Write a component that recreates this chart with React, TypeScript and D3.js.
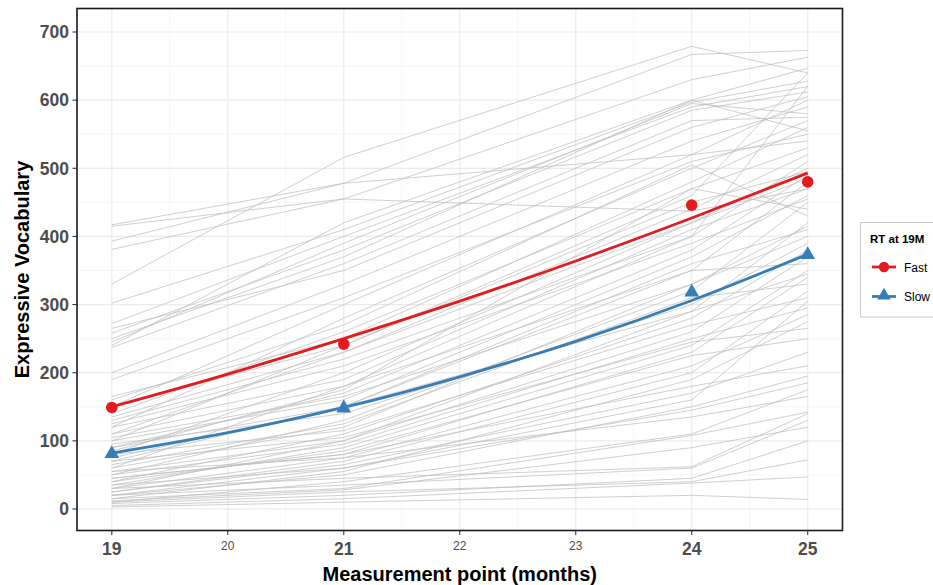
import React from "react";
import * as d3 from "d3";

// ---- data ----
const months = [19, 21, 24, 25];
const xTicks = [19, 20, 21, 22, 23, 24, 25];
const measuredTicks = [19, 21, 24, 25];
const yTicks = [0, 100, 200, 300, 400, 500, 600, 700];
const yMinorTicks = [50, 150, 250, 350, 450, 550, 650];
const xMinorTicks = [19.5, 20.5, 21.5, 22.5, 23.5, 24.5];

// individual children: vocabulary at 19, 21, 24, 25 months
const trajectories: number[][] = [
  [330, 516, 679, 640],
  [393, 478, 667, 673],
  [381, 455, 630, 663],
  [240, 420, 600, 647],
  [302, 410, 597, 628],
  [272, 400, 590, 620],
  [258, 380, 585, 612],
  [265, 350, 560, 605],
  [150, 300, 520, 600],
  [200, 330, 540, 590],
  [245, 390, 595, 580],
  [237, 360, 570, 575],
  [120, 280, 500, 570],
  [165, 250, 480, 560],
  [250, 370, 600, 555],
  [100, 240, 460, 640],
  [60, 180, 400, 620],
  [190, 310, 510, 550],
  [417, 478, 520, 540],
  [415, 455, 437, 470],
  [140, 260, 470, 530],
  [110, 230, 440, 520],
  [130, 220, 400, 510],
  [80, 200, 420, 500],
  [150, 240, 450, 495],
  [90, 170, 380, 490],
  [70, 150, 350, 480],
  [120, 190, 410, 470],
  [100, 160, 370, 460],
  [50, 130, 320, 450],
  [85, 175, 470, 440],
  [160, 270, 505, 430],
  [30, 100, 290, 420],
  [75, 150, 360, 410],
  [60, 120, 330, 400],
  [95, 140, 300, 390],
  [40, 110, 280, 380],
  [55, 100, 260, 370],
  [110, 180, 350, 360],
  [35, 90, 240, 350],
  [45, 80, 230, 340],
  [65, 125, 310, 330],
  [25, 70, 200, 320],
  [80, 115, 270, 310],
  [20, 60, 160, 305],
  [50, 95, 250, 295],
  [30, 75, 210, 285],
  [15, 55, 190, 275],
  [70, 105, 245, 265],
  [40, 85, 225, 250],
  [25, 65, 170, 230],
  [45, 80, 180, 210],
  [20, 50, 150, 195],
  [35, 60, 145, 185],
  [10, 40, 110, 175],
  [55, 75, 135, 165],
  [15, 30, 108, 142],
  [30, 45, 62, 140],
  [10, 25, 40, 72],
  [5, 15, 38, 47],
  [3, 10, 20, 14],
  [20, 35, 60, 130],
  [8, 20, 45, 100],
  [125, 210, 390, 455],
  [135, 230, 420, 485],
  [105, 165, 330, 415],
  [90, 150, 290, 345],
  [12, 28, 90, 120],
];

const fitMonths = [19, 20, 21, 22, 23, 24, 25];
const fastFit = [150, 198, 250, 305, 364, 427, 493];
const slowFit = [82, 112, 149, 194, 246, 306, 374];
const fastMeans = [149, 242, 446, 480];
const slowMeans = [81, 148, 318, 373];
const groups = ["Fast", "Slow"];
const groupColors = ["#E41A1C", "#377EB8"];

const FONT = "'Liberation Sans', Arial, Helvetica, sans-serif";

export default function App() {
  const W = 933;
  const H = 585;
  const left = 77, right = 842.5, top = 8.5, bottom = 530.5;
  const x = d3.scaleLinear().domain([18.7, 25.3]).range([left, right]);
  const y = d3.scaleLinear().domain([-31.6, 734.5]).range([bottom, top]);

  const line = d3
    .line<[number, number]>()
    .x((d) => x(d[0]))
    .y((d) => y(d[1]));
  const smooth = d3
    .line<[number, number]>()
    .x((d) => x(d[0]))
    .y((d) => y(d[1]))
    .curve(d3.curveMonotoneX);

  const tri = d3.symbol(d3.symbolTriangle, 95)() as string;
  const triSmall = d3.symbol(d3.symbolTriangle, 80)() as string;

  const fits = [fastFit, slowFit];

  return (
    <svg
      width={W}
      height={H}
      style={{ position: "absolute", left: 0, top: 0, background: "#fff" }}
      fontFamily={FONT}
    >
      <rect x={0} y={0} width={W} height={H} fill="#fff" />
      {/* grid */}
      <g>
        {yMinorTicks.map((t) => (
          <line key={"ym" + t} x1={left} x2={right} y1={y(t)} y2={y(t)} stroke="#f0f0f0" strokeWidth={0.6} />
        ))}
        {xMinorTicks.map((t) => (
          <line key={"xm" + t} x1={x(t)} x2={x(t)} y1={top} y2={bottom} stroke="#f0f0f0" strokeWidth={0.6} />
        ))}
        {yTicks.map((t) => (
          <line key={"y" + t} x1={left} x2={right} y1={y(t)} y2={y(t)} stroke="#ebebeb" strokeWidth={1.2} />
        ))}
        {xTicks.map((t) => (
          <line key={"x" + t} x1={x(t)} x2={x(t)} y1={top} y2={bottom} stroke="#ebebeb" strokeWidth={1.2} />
        ))}
      </g>
      {/* individual trajectories */}
      <g fill="none" stroke="#bfbfbf" strokeWidth={0.75}>
        {trajectories.map((tr, i) => (
          <path key={i} d={line(tr.map((v, j) => [months[j], v] as [number, number])) || ""} />
        ))}
      </g>
      {/* fitted lines */}
      {fits.map((f, gi) => (
        <path
          key={"fit" + gi}
          d={smooth(f.map((v, j) => [fitMonths[j], v] as [number, number])) || ""}
          fill="none"
          stroke={groupColors[gi]}
          strokeWidth={2.8}
        />
      ))}
      {/* means */}
      {fastMeans.map((v, j) => (
        <circle key={"fm" + j} cx={x(months[j])} cy={y(v)} r={5.8} fill={groupColors[0]} />
      ))}
      {slowMeans.map((v, j) => (
        <path key={"sm" + j} d={tri} transform={`translate(${x(months[j])},${y(v)})`} fill={groupColors[1]} />
      ))}
      {/* panel border */}
      <rect x={left} y={top} width={right - left} height={bottom - top} fill="none" stroke="#1a1a1a" strokeWidth={1.6} />
      {/* y axis */}
      <g>
        {yTicks.map((t) => (
          <g key={"yt" + t}>
            <line x1={left - 4.5} x2={left} y1={y(t)} y2={y(t)} stroke="#333" strokeWidth={1.1} />
            <text
              x={left - 8}
              y={y(t)}
              dy="0.36em"
              textAnchor="end"
              fontSize={17.5}
              fontWeight="bold"
              fill="#4d4d4d"
            >
              {t}
            </text>
          </g>
        ))}
      </g>
      {/* x axis */}
      <g>
        {xTicks.map((t) => {
          const big = measuredTicks.includes(t);
          return (
            <g key={"xt" + t}>
              <line x1={x(t)} x2={x(t)} y1={bottom} y2={bottom + 4.5} stroke="#333" strokeWidth={1.1} />
              <text
                x={x(t)}
                y={big ? 554.5 : 550}
                textAnchor="middle"
                fontSize={big ? 17.5 : 12}
                fontWeight={big ? "bold" : "normal"}
                fill="#4d4d4d"
              >
                {t}
              </text>
            </g>
          );
        })}
      </g>
      {/* axis titles */}
      <text x={(left + right) / 2} y={581} textAnchor="middle" fontSize={20} fontWeight="bold" fill="#000">
        Measurement point (months)
      </text>
      <text
        transform={`translate(29,${(top + bottom) / 2}) rotate(-90)`}
        textAnchor="middle"
        fontSize={20}
        fontWeight="bold"
        fill="#000"
      >
        Expressive Vocabulary
      </text>
      {/* legend */}
      <g>
        <rect x={860.5} y={222.5} width={90} height={94.5} fill="#fff" stroke="#cccccc" strokeWidth={1} />
        <text x={870} y={243} fontSize={11.5} fontWeight="bold" fill="#000">
          RT at 19M
        </text>
        {groups.map((g, gi) => {
          const cy = 267 + gi * 29.5;
          return (
            <g key={g}>
              <line x1={872} x2={896} y1={cy} y2={cy} stroke={groupColors[gi]} strokeWidth={2.8} />
              {gi === 0 ? (
                <circle cx={884} cy={cy} r={5.2} fill={groupColors[gi]} />
              ) : (
                <path d={triSmall} transform={`translate(884,${cy - 1})`} fill={groupColors[gi]} />
              )}
              <text x={904} y={cy + 4.5} fontSize={12} fill="#000">
                {g}
              </text>
            </g>
          );
        })}
      </g>
    </svg>
  );
}
